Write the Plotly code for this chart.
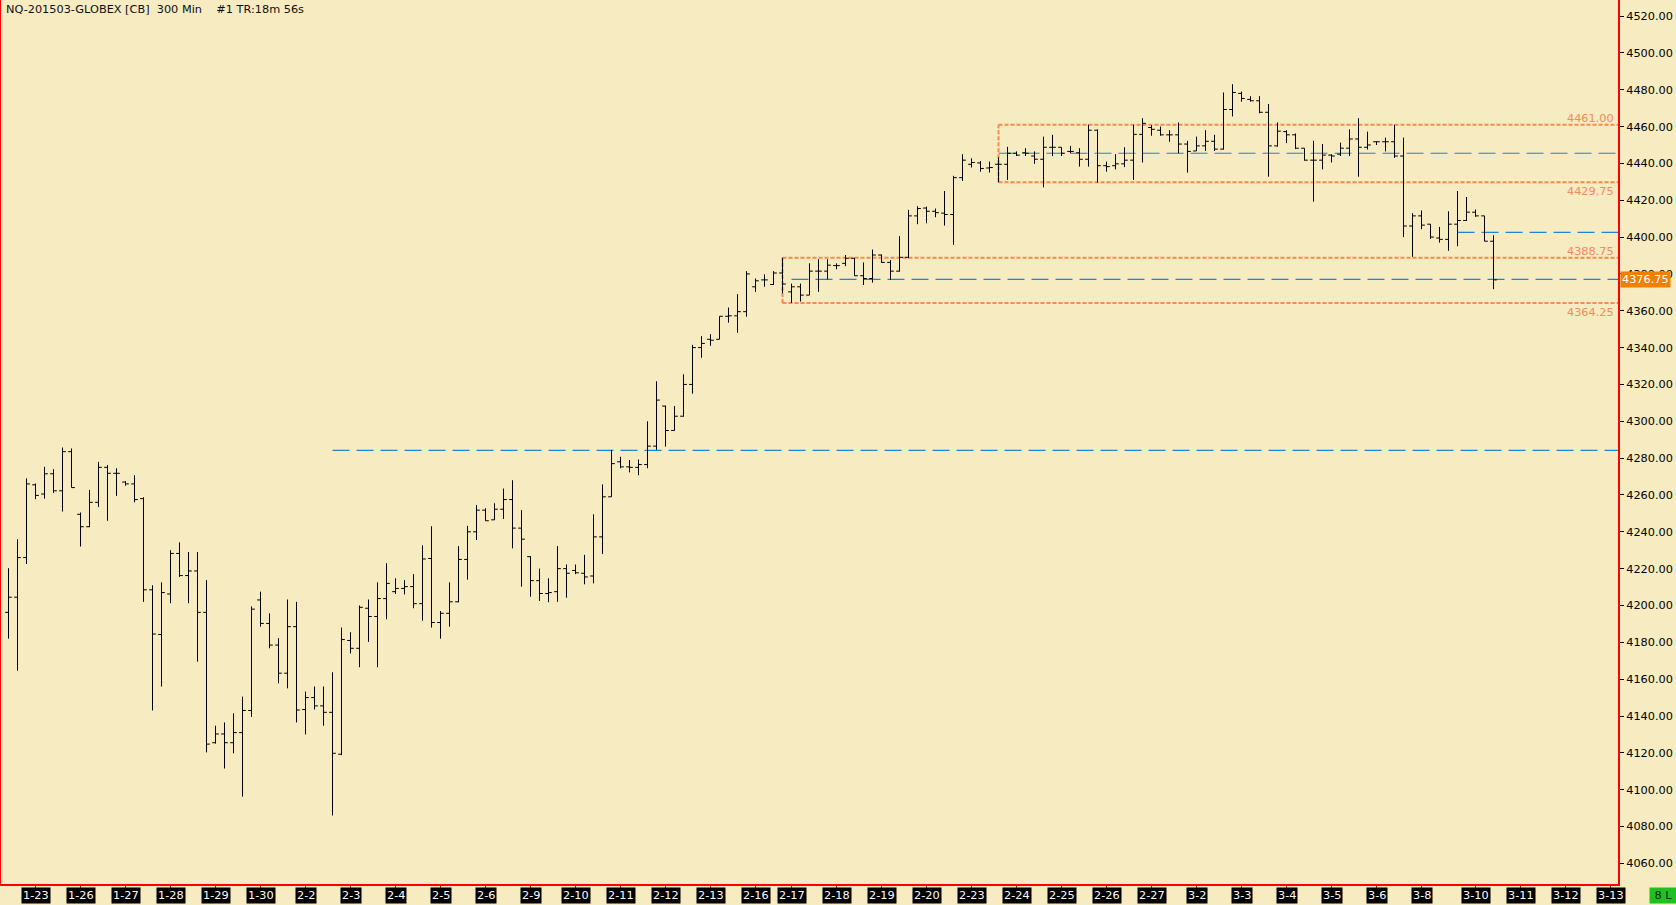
import plotly.graph_objects as go

# ---------------- data ----------------
opens = [4196.25, 4204.5, 4226.0, 4265.5, 4260.5, 4271.5, 4262.25, 4283.5, 4249.5, 4242.75,
         4256.0, 4275.0, 4271.75, 4267.0, 4266.0, 4258.0, 4208.5, 4184.25, 4206.25, 4228.25,
         4216.25, 4218.75, 4196.25, 4125.5, 4130.25, 4125.5, 4131.0, 4143.0, 4203.0, 4190.25,
         4178.5, 4163.25, 4188.5, 4143.5, 4150.0, 4145.5, 4142.0, 4119.25, 4181.0, 4176.75,
         4198.5, 4194.0, 4203.75, 4207.5, 4209.25, 4210.25, 4201.0, 4225.5, 4190.75, 4195.75,
         4202.0, 4225.0, 4240.0, 4251.75, 4246.5, 4252.25, 4257.5, 4242.0, 4226.5, 4213.5,
         4206.5, 4207.5, 4220.0, 4219.0, 4217.5, 4216.0, 4237.25, 4259.0, 4278.0, 4275.25,
         4275.0, 4276.5, 4286.5, 4308.25, 4295.0, 4302.75, 4320.0, 4340.0, 4344.5, 4344.5,
         4357.0, 4357.25, 4359.5, 4373.0, 4376.75, 4374.25, 4380.5, 4370.25, 4373.0, 4368.5,
         4381.5, 4381.5, 4384.5, 4385.75, 4388.5, 4379.0, 4377.5, 4390.25, 4386.25, 4381.5,
         4389.0, 4411.5, 4415.75, 4414.0, 4413.0, 4412.25, 4432.25, 4439.5, 4440.25, 4437.5,
         4439.5, 4439.5, 4445.5, 4445.75, 4444.0, 4442.25, 4448.75, 4448.75, 4446.5, 4445.75,
         4442.25, 4458.0, 4438.75, 4438.75, 4439.75, 4441.75, 4455.75, 4459.5, 4458.0, 4455.5,
         4455.5, 4450.5, 4446.75, 4449.5, 4452.0, 4447.75, 4469.25, 4478.0, 4474.75, 4474.0,
         4467.75, 4449.5, 4457.25, 4455.5, 4448.25, 4441.75, 4441.75, 4444.5, 4445.0, 4448.25,
         4453.25, 4448.75, 4451.75, 4451.75, 4451.75, 4444.0, 4406.0, 4411.5, 4407.0, 4399.5,
         4398.75, 4407.0, 4409.0, 4413.5, 4411.5, 4397.75]
highs = [4220.25, 4236.0, 4269.0, 4266.25, 4275.25, 4274.0, 4285.75, 4285.25, 4250.5, 4262.75,
         4278.0, 4276.25, 4274.5, 4267.5, 4270.75, 4258.75, 4211.0, 4212.5, 4230.0, 4234.25,
         4229.0, 4229.0, 4213.75, 4134.75, 4136.5, 4141.5, 4150.5, 4199.5, 4207.5, 4195.75,
         4182.25, 4203.25, 4202.0, 4153.25, 4156.0, 4156.0, 4163.75, 4188.0, 4185.5, 4200.0,
         4203.25, 4212.5, 4223.0, 4214.75, 4213.75, 4217.0, 4232.75, 4243.0, 4197.0, 4212.5,
         4232.25, 4243.25, 4254.5, 4252.75, 4255.5, 4263.5, 4268.0, 4251.75, 4226.75, 4220.0,
         4214.75, 4232.25, 4222.25, 4222.25, 4227.5, 4249.5, 4265.75, 4284.5, 4280.75, 4279.0,
         4279.25, 4300.0, 4321.75, 4308.5, 4308.25, 4325.5, 4341.5, 4346.25, 4347.25, 4357.0,
         4361.75, 4369.0, 4381.5, 4377.5, 4379.75, 4381.5, 4388.75, 4374.75, 4374.75, 4385.75,
         4388.0, 4388.0, 4385.75, 4390.25, 4388.75, 4386.25, 4393.25, 4390.5, 4387.5, 4400.5,
         4414.75, 4416.75, 4416.5, 4415.5, 4425.0, 4433.25, 4445.0, 4442.75, 4441.25, 4441.0,
         4443.25, 4449.0, 4446.5, 4448.25, 4446.5, 4454.5, 4455.5, 4448.75, 4449.5, 4448.25,
         4461.0, 4458.5, 4441.0, 4445.0, 4448.75, 4461.0, 4464.5, 4460.75, 4460.0, 4458.0,
         4462.25, 4452.25, 4454.5, 4458.0, 4455.5, 4478.5, 4483.0, 4479.0, 4476.5, 4476.5,
         4472.25, 4462.25, 4458.0, 4456.25, 4448.25, 4452.25, 4450.5, 4445.0, 4451.25, 4458.5,
         4464.5, 4457.25, 4452.0, 4454.0, 4461.0, 4454.0, 4413.0, 4414.5, 4407.0, 4405.5,
         4414.0, 4425.0, 4421.75, 4415.0, 4411.5, 4401.0]
lows = [4182.0, 4164.5, 4222.5, 4257.75, 4258.0, 4261.0, 4251.0, 4264.0, 4232.0, 4242.5,
        4253.5, 4246.0, 4259.5, 4265.0, 4256.0, 4202.0, 4143.0, 4156.0, 4201.25, 4215.5,
        4201.25, 4169.5, 4120.25, 4125.0, 4111.5, 4119.75, 4096.25, 4139.5, 4188.5, 4176.75,
        4157.75, 4155.0, 4136.5, 4130.0, 4143.5, 4134.75, 4086.0, 4118.75, 4174.0, 4166.5,
        4180.25, 4166.5, 4192.5, 4206.25, 4206.0, 4198.5, 4191.75, 4188.0, 4182.0, 4188.5,
        4201.75, 4214.0, 4235.5, 4246.0, 4246.5, 4247.0, 4231.0, 4210.25, 4204.75, 4202.5,
        4201.75, 4202.0, 4204.25, 4217.0, 4211.5, 4212.0, 4228.0, 4259.0, 4274.5, 4272.25,
        4270.75, 4274.5, 4284.5, 4286.25, 4295.0, 4302.5, 4315.0, 4334.5, 4341.0, 4344.5,
        4353.5, 4348.0, 4356.75, 4370.25, 4373.0, 4374.0, 4369.5, 4364.25, 4365.0, 4368.5,
        4370.25, 4377.0, 4382.5, 4384.25, 4379.0, 4374.0, 4375.25, 4386.0, 4376.75, 4381.25,
        4388.5, 4407.0, 4407.5, 4410.75, 4406.25, 4395.75, 4430.5, 4437.75, 4435.5, 4435.0,
        4429.75, 4431.0, 4444.0, 4444.0, 4439.75, 4427.0, 4444.0, 4444.0, 4445.5, 4438.25,
        4438.25, 4429.5, 4435.5, 4436.75, 4438.0, 4431.0, 4440.5, 4455.0, 4455.0, 4451.75,
        4445.5, 4435.0, 4446.75, 4446.75, 4446.75, 4447.5, 4465.5, 4473.5, 4473.5, 4467.25,
        4432.75, 4449.0, 4451.0, 4447.75, 4441.5, 4419.25, 4436.75, 4440.5, 4444.0, 4444.0,
        4432.75, 4447.5, 4450.0, 4446.5, 4443.0, 4400.0, 4389.25, 4404.25, 4399.0, 4397.0,
        4392.5, 4395.0, 4408.75, 4411.0, 4397.75, 4371.75]
closes = [4204.5, 4226.0, 4266.0, 4259.75, 4271.5, 4262.25, 4283.5, 4264.0, 4242.75, 4256.0,
          4275.0, 4271.75, 4271.75, 4266.0, 4257.5, 4208.5, 4184.5, 4207.0, 4228.25, 4216.25,
          4218.75, 4196.25, 4124.75, 4130.25, 4125.5, 4131.0, 4143.0, 4198.0, 4190.25, 4178.5,
          4163.25, 4188.5, 4143.25, 4150.0, 4145.5, 4142.0, 4119.75, 4181.5, 4176.75, 4199.0,
          4194.0, 4203.75, 4212.0, 4209.25, 4210.25, 4201.0, 4225.25, 4190.75, 4195.75, 4202.0,
          4225.0, 4240.0, 4251.75, 4246.0, 4252.25, 4257.5, 4242.0, 4236.0, 4213.5, 4206.5,
          4207.0, 4220.0, 4217.5, 4217.75, 4215.5, 4237.25, 4259.0, 4277.0, 4275.25, 4275.0,
          4276.5, 4286.5, 4311.5, 4295.0, 4302.75, 4320.0, 4340.0, 4342.25, 4344.0, 4357.0,
          4357.25, 4359.5, 4380.0, 4376.25, 4376.75, 4380.5, 4374.5, 4373.0, 4368.5, 4381.5,
          4381.5, 4384.75, 4384.5, 4388.5, 4379.0, 4377.5, 4390.25, 4386.25, 4381.5, 4389.0,
          4411.5, 4415.5, 4414.0, 4413.25, 4412.25, 4432.25, 4441.75, 4440.5, 4437.25, 4437.75,
          4439.5, 4445.5, 4444.5, 4445.5, 4442.25, 4448.75, 4448.75, 4445.5, 4446.5, 4442.25,
          4458.0, 4438.75, 4438.25, 4439.75, 4441.75, 4455.75, 4461.75, 4458.5, 4455.5, 4455.5,
          4450.5, 4446.5, 4449.5, 4452.0, 4447.75, 4469.25, 4478.5, 4475.25, 4474.0, 4467.75,
          4449.5, 4457.5, 4455.5, 4448.25, 4441.75, 4441.75, 4444.5, 4444.0, 4448.25, 4453.25,
          4448.75, 4450.0, 4451.75, 4451.75, 4444.0, 4406.0, 4411.5, 4406.5, 4400.0, 4398.75,
          4407.0, 4409.0, 4413.5, 4411.5, 4397.75, 4376.75]

day_labels = ["1-23", "1-26", "1-27", "1-28", "1-29", "1-30", "2-2", "2-3", "2-4", "2-5",
              "2-6", "2-9", "2-10", "2-11", "2-12", "2-13", "2-16", "2-17", "2-18", "2-19",
              "2-20", "2-23", "2-24", "2-25", "2-26", "2-27", "3-2", "3-3", "3-4", "3-5",
              "3-6", "3-8", "3-10", "3-11", "3-12", "3-13"]
day_bar_index = [3, 8, 13, 18, 23, 28, 33, 38, 43, 48,
                 53, 58, 63, 68, 73, 78, 83, 87, 92, 97,
                 102, 107, 112, 117, 122, 127, 132, 137, 142, 147,
                 152, 157, 163, 168, 173, 178]

pivot_levels = [4284.25, 4377.0, 4445.5, 4402.5]
pivot_start_bar = [36, 87, 110, 161]

zone_tops = [4388.75, 4461.00]
zone_bottoms = [4364.25, 4429.75]
zone_start_bar = [86, 110]

last_price = 4376.75
title_text = "NQ-201503-GLOBEX [CB]  300 Min    #1 TR:18m 56s"
status_text = " 8 L "

# ---------------- styling ----------------
BG = "#F6EBC1"
RED = "#FF0000"
BLUE = "#1E84D6"
ORANGE = "#F98B4E"
ORANGE_TXT = "#F58A5C"
FONT = "DejaVu Sans"

X_RANGE = [-0.9444, 178.833]
Y_RANGE = [4048.8, 4528.7]

bar_x = list(range(len(opens)))

fig = go.Figure()
fig.add_trace(go.Ohlc(
    x=bar_x, open=opens, high=highs, low=lows, close=closes,
    increasing=dict(line=dict(color="black", width=1)),
    decreasing=dict(line=dict(color="black", width=1)),
    tickwidth=0.37, hoverinfo="skip", showlegend=False,
))

shapes = []
for lvl, st in zip(pivot_levels, pivot_start_bar):
    shapes.append(dict(type="line", xref="x", yref="y", x0=st, x1=X_RANGE[1], y0=lvl, y1=lvl,
                       line=dict(color=BLUE, width=1.2, dash="17px,7px"), layer="below"))
for top, bot, st in zip(zone_tops, zone_bottoms, zone_start_bar):
    for yy in (top, bot):
        shapes.append(dict(type="line", xref="x", yref="y", x0=st, x1=X_RANGE[1], y0=yy, y1=yy,
                           line=dict(color=ORANGE, width=2, dash="4px,2px"), layer="below"))
    shapes.append(dict(type="line", xref="x", yref="y", x0=st, x1=st, y0=bot, y1=top,
                       line=dict(color=ORANGE, width=2, dash="4px,2px"), layer="below"))
# left frame line
shapes.append(dict(type="line", xref="paper", yref="paper", x0=0, x1=0, y0=0, y1=1,
                   line=dict(color=RED, width=2)))

annotations = []
annotations.append(dict(xref="paper", yref="paper", x=0, y=1, xanchor="left", yanchor="top",
                        xshift=4, yshift=-1, showarrow=False,
                        text=title_text.replace(" ", "\u00a0"),
                        font=dict(family=FONT, size=11.3, color="#101010")))
for top, bot in zip(zone_tops, zone_bottoms):
    annotations.append(dict(xref="paper", yref="y", x=1, y=top, xanchor="right", yanchor="bottom",
                            xshift=-2, yshift=-2, showarrow=False, text=f"{top:.2f}",
                            font=dict(family=FONT, size=11.3, color=ORANGE_TXT)))
    annotations.append(dict(xref="paper", yref="y", x=1, y=bot, xanchor="right", yanchor="top",
                            xshift=-2, yshift=-1, showarrow=False, text=f"{bot:.2f}",
                            font=dict(family=FONT, size=11.3, color=ORANGE_TXT)))
annotations.append(dict(xref="paper", yref="y", x=1, y=last_price, xanchor="left", yanchor="middle",
                        xshift=2, showarrow=False, text=f"{last_price:.2f}",
                        bgcolor="#F08000", borderpad=1,
                        font=dict(family=FONT, size=11.3, color="white")))
for lab, idx in zip(day_labels, day_bar_index):
    annotations.append(dict(xref="x", yref="paper", x=idx, y=0, xanchor="center", yanchor="middle",
                            yshift=-11, showarrow=False, text=lab, bgcolor="black", borderpad=1,
                            font=dict(family=FONT, size=11.3, color="white")))
annotations.append(dict(xref="paper", yref="paper", x=1, y=0, xanchor="center", yanchor="middle",
                        xshift=44.5, yshift=-11, showarrow=False,
                        text=status_text.replace(" ", "\u00a0"),
                        bgcolor="#1FC01F", borderpad=1,
                        font=dict(family=FONT, size=11.3, color="#0A2A0A")))

fig.update_layout(
    width=1676, height=905, autosize=False,
    margin=dict(l=0, r=58, t=0, b=21, pad=0),
    paper_bgcolor=BG, plot_bgcolor=BG,
    font=dict(family=FONT, size=11, color="black"),
    showlegend=False,
    shapes=shapes, annotations=annotations,
    xaxis=dict(range=X_RANGE, showgrid=False, zeroline=False, rangeslider=dict(visible=False),
               showline=True, linecolor=RED, linewidth=2,
               tickmode="array", tickvals=day_bar_index, showticklabels=False,
               ticks="outside", ticklen=3, tickcolor=RED, tickwidth=1, fixedrange=True),
    yaxis=dict(range=Y_RANGE, side="right", showgrid=False, zeroline=False,
               showline=True, linecolor=RED, linewidth=2,
               tickmode="linear", tick0=4060, dtick=20, tickformat=".2f",
               ticks="outside", ticklen=4, tickcolor="black", tickwidth=1,
               tickfont=dict(family=FONT, size=11.3, color="black"), fixedrange=True),
)

page_fix = ("document.body.style.margin='0';document.body.style.padding='0';"
            "document.body.style.overflow='hidden';"
            "document.body.style.background='" + BG + "';")
fig.write_html("out.html", post_script=page_fix, config={"displayModeBar": False})
